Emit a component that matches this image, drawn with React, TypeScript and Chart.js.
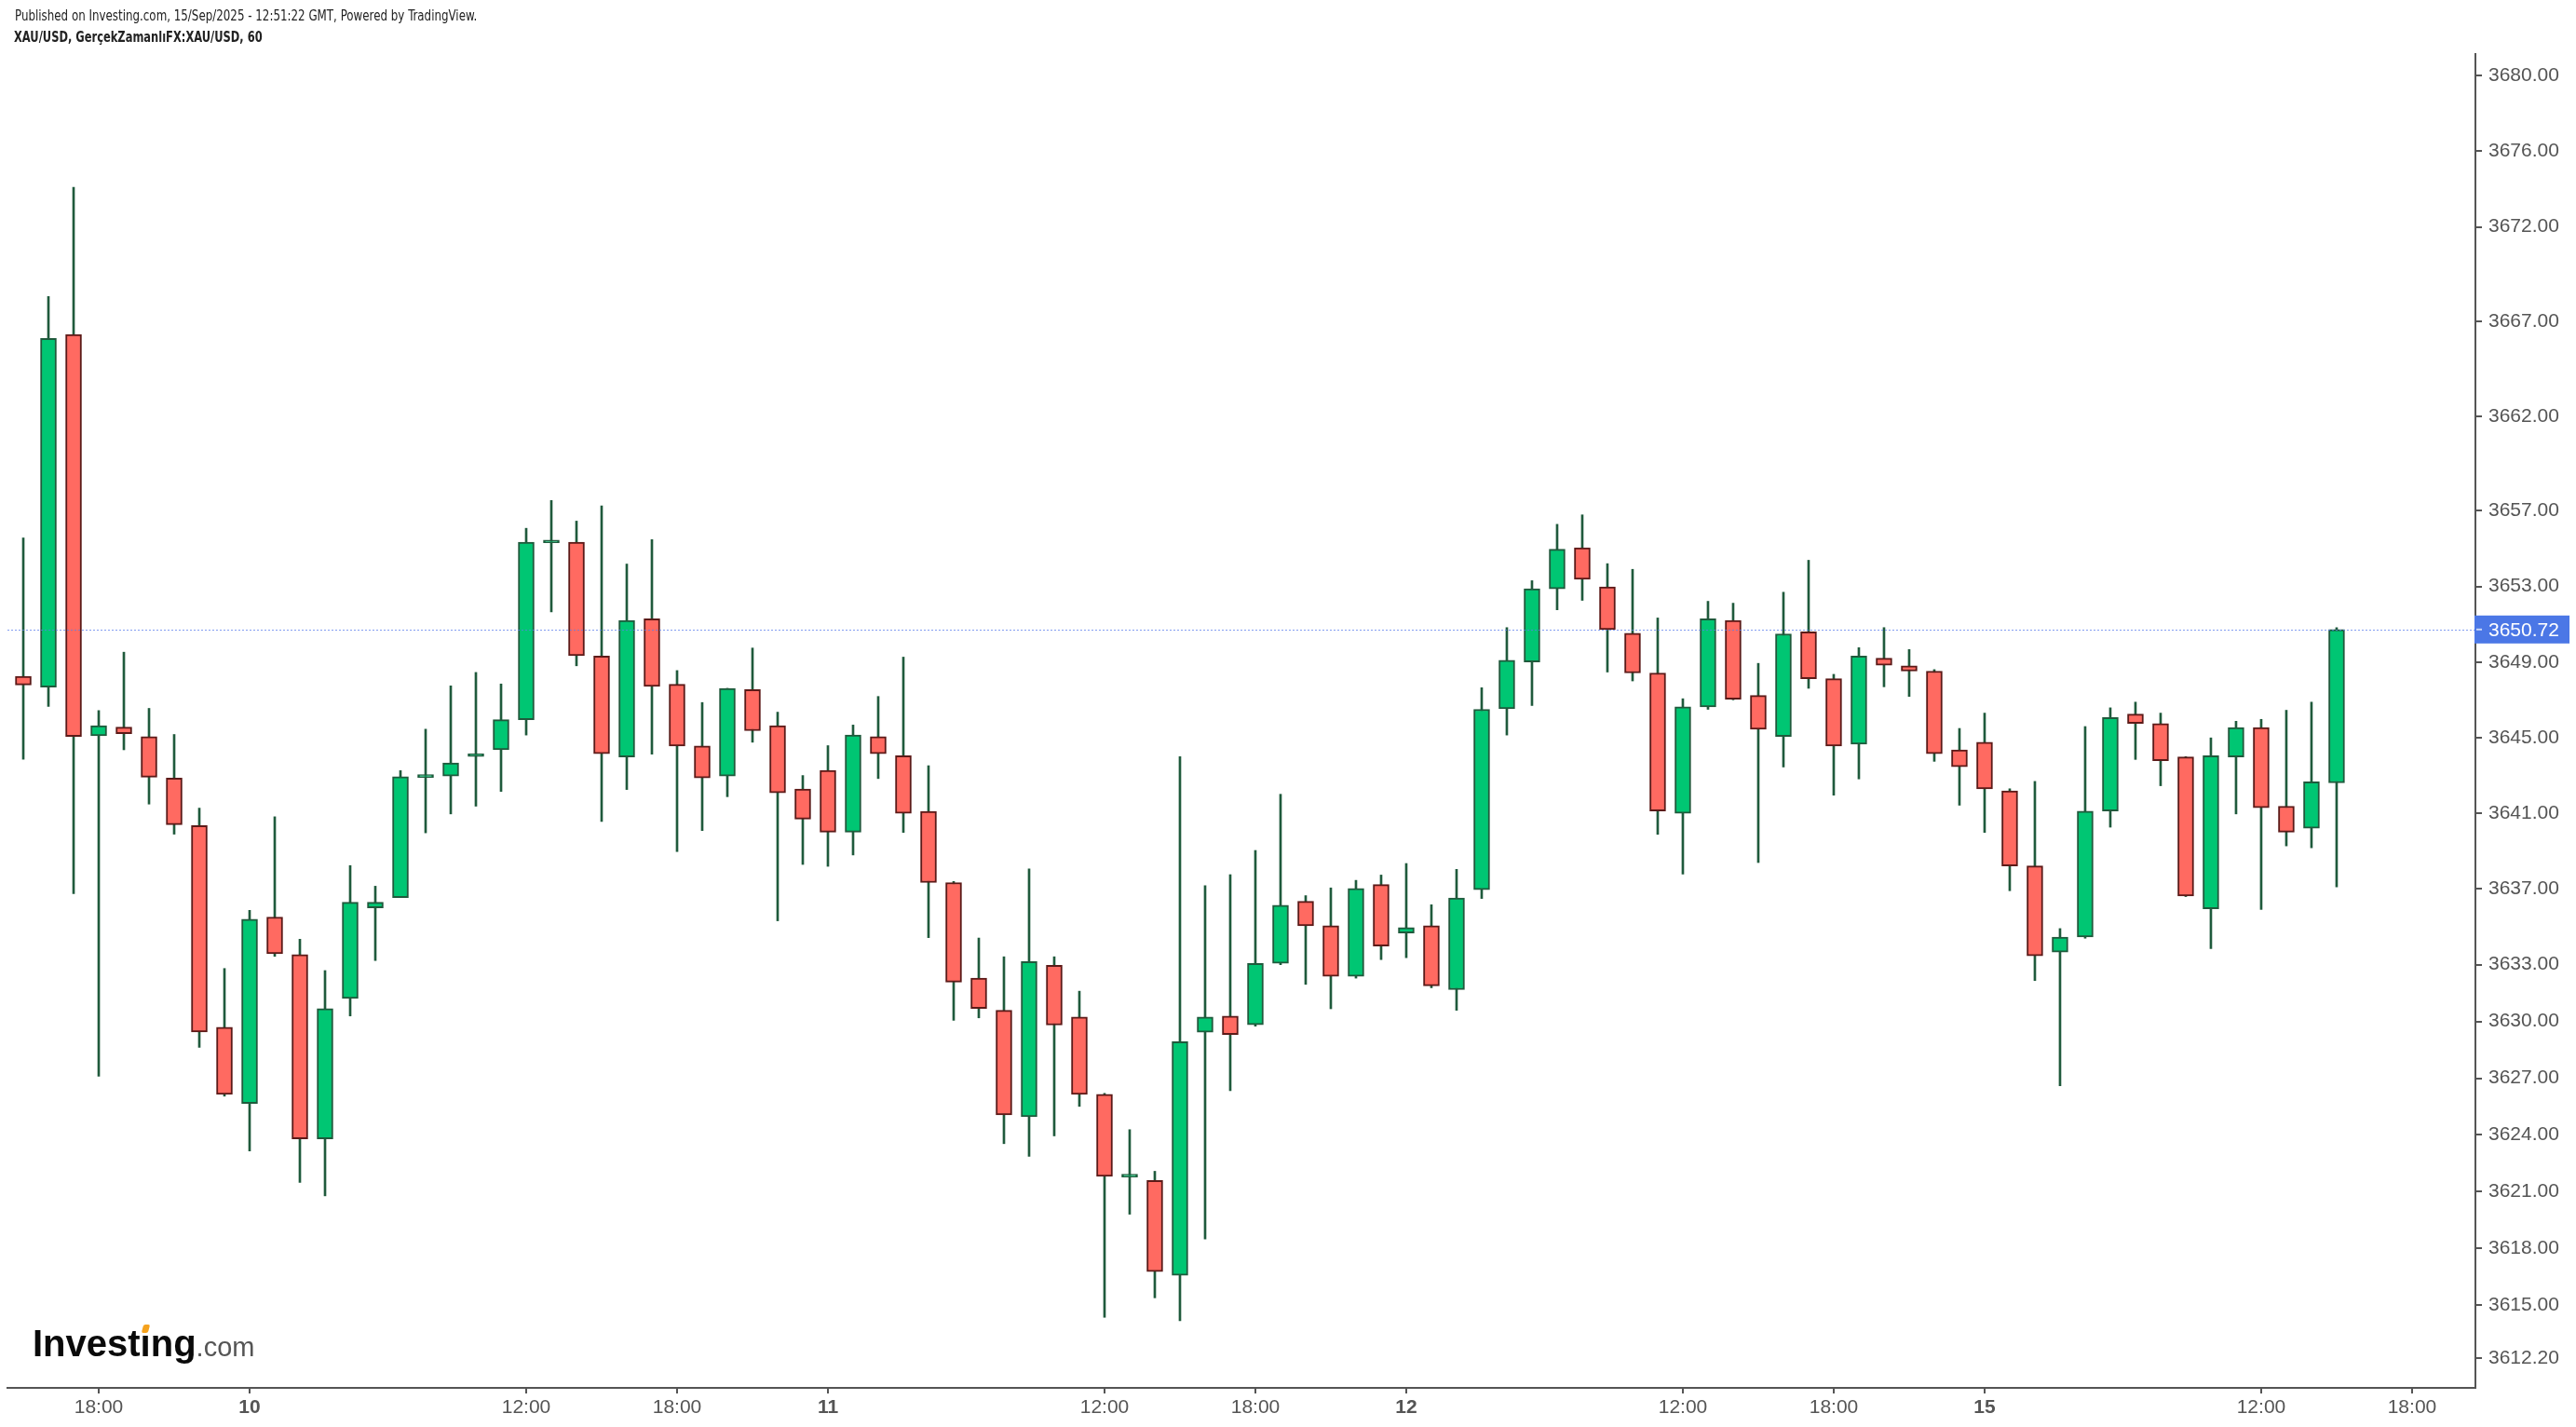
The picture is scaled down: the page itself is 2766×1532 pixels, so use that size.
import React, { useEffect, useRef } from "react";
import { Chart, registerables } from "chart.js";

Chart.register(...registerables);

// ---- Data (hourly XAU/USD candles, 9 Sep 15:00 -> 15 Sep 15:00) ----
const opens = [
  3648.25, 3647.68, 3666.31, 3645.10, 3645.56, 3645.06, 3642.87, 3640.36, 3629.69, 3625.66,
  3635.52, 3633.54, 3623.79, 3631.21, 3636.00, 3636.55, 3642.90, 3642.97, 3644.00, 3644.36,
  3645.95, 3655.30, 3655.34, 3649.31, 3643.98, 3651.28, 3647.82, 3644.56, 3642.97, 3647.54,
  3645.64, 3642.29, 3643.27, 3640.01, 3645.06, 3644.05, 3641.10, 3637.34, 3632.29, 3630.59,
  3624.96, 3632.97, 3630.24, 3626.15, 3621.78, 3621.60, 3616.58, 3629.43, 3630.29, 3629.83,
  3633.07, 3636.35, 3635.06, 3632.39, 3637.24, 3634.68, 3635.06, 3631.68, 3636.96, 3646.53,
  3649.00, 3652.87, 3655.04, 3652.97, 3650.52, 3648.42, 3641.00, 3646.63, 3651.20, 3647.23,
  3645.06, 3650.60, 3648.12, 3644.66, 3649.20, 3648.80, 3648.52, 3644.36, 3644.76, 3642.19,
  3638.22, 3633.67, 3634.46, 3641.12, 3646.25, 3645.75, 3643.98, 3635.95, 3643.98, 3645.54,
  3641.38, 3640.22, 3642.61,
];
const highs = [
  3655.56, 3668.32, 3674.09, 3646.44, 3649.52, 3646.55, 3645.17, 3641.28, 3632.80, 3635.87,
  3640.82, 3634.35, 3632.69, 3638.24, 3637.15, 3643.26, 3645.45, 3647.74, 3648.45, 3647.84,
  3656.07, 3657.54, 3656.45, 3657.26, 3654.18, 3655.47, 3648.55, 3646.86, 3647.61, 3649.74,
  3646.35, 3643.00, 3644.58, 3645.67, 3647.18, 3649.26, 3643.52, 3637.40, 3634.41, 3633.42,
  3638.07, 3633.42, 3631.60, 3626.20, 3624.28, 3622.08, 3644.00, 3637.18, 3637.76, 3639.04,
  3642.01, 3636.65, 3637.06, 3637.46, 3637.74, 3638.35, 3636.17, 3638.04, 3647.64, 3650.82,
  3653.30, 3656.28, 3656.78, 3654.20, 3653.90, 3651.33, 3647.06, 3652.21, 3652.11, 3648.93,
  3652.69, 3654.38, 3648.35, 3649.76, 3650.82, 3649.66, 3648.60, 3645.49, 3646.30, 3642.30,
  3642.69, 3634.91, 3645.59, 3646.58, 3646.88, 3646.30, 3644.00, 3644.99, 3645.87, 3645.97,
  3646.45, 3646.88, 3650.82,
];
const lows = [
  3643.86, 3646.65, 3636.76, 3627.11, 3644.36, 3641.49, 3639.90, 3628.63, 3626.05, 3623.15,
  3633.44, 3621.49, 3620.78, 3630.29, 3633.22, 3636.55, 3639.97, 3640.97, 3641.38, 3642.16,
  3645.14, 3651.65, 3648.80, 3640.57, 3642.26, 3644.13, 3638.98, 3640.09, 3641.88, 3644.76,
  3635.32, 3638.30, 3638.20, 3638.80, 3642.84, 3639.99, 3634.43, 3630.06, 3630.19, 3623.54,
  3622.87, 3623.95, 3625.51, 3614.36, 3619.81, 3615.39, 3614.18, 3618.50, 3626.34, 3629.75,
  3633.00, 3631.96, 3630.67, 3632.29, 3633.27, 3633.37, 3631.78, 3630.59, 3636.50, 3645.14,
  3646.70, 3651.76, 3652.26, 3648.47, 3648.00, 3639.89, 3637.79, 3646.50, 3647.00, 3638.40,
  3643.45, 3647.61, 3641.96, 3642.82, 3647.69, 3647.18, 3643.75, 3641.43, 3639.99, 3636.91,
  3632.16, 3626.60, 3634.40, 3640.27, 3643.85, 3642.46, 3636.60, 3633.85, 3640.97, 3635.92,
  3639.28, 3639.18, 3637.11,
];
const closes = [
  3647.79, 3666.10, 3645.06, 3645.63, 3645.21, 3642.91, 3640.40, 3629.44, 3626.15, 3635.41,
  3633.58, 3623.79, 3630.68, 3636.30, 3636.30, 3642.94, 3642.92, 3643.67, 3644.06, 3645.95,
  3655.34, 3655.36, 3649.33, 3644.15, 3651.20, 3647.71, 3644.56, 3642.87, 3647.61, 3645.37,
  3642.08, 3640.70, 3640.01, 3645.14, 3644.15, 3641.00, 3637.34, 3632.08, 3630.69, 3625.06,
  3633.17, 3629.81, 3626.15, 3621.81, 3621.82, 3616.78, 3628.93, 3630.24, 3629.31, 3633.07,
  3636.15, 3635.06, 3632.39, 3637.03, 3633.98, 3634.96, 3631.88, 3636.53, 3646.50, 3649.10,
  3652.87, 3654.96, 3653.37, 3650.72, 3648.42, 3641.12, 3646.63, 3651.28, 3647.03, 3645.44,
  3650.49, 3648.12, 3644.56, 3649.31, 3648.83, 3648.52, 3644.15, 3643.47, 3642.29, 3638.22,
  3633.47, 3634.46, 3641.12, 3646.07, 3645.75, 3643.78, 3636.63, 3644.05, 3645.54, 3641.30,
  3640.01, 3642.67, 3650.72,
];

// bar index positions of the time-axis labels
const xTickIndex = [3, 9, 20, 26, 32, 43, 49, 55, 66, 72, 78, 89, 95];
const xTickLabels = ["18:00", "10", "12:00", "18:00", "11", "12:00", "18:00", "12", "12:00", "18:00", "15", "12:00", "18:00"];
const dayLabels = ["10", "11", "12", "15"];

const yTickValues = [
  3680, 3676, 3672, 3667, 3662, 3657, 3653, 3649, 3645, 3641, 3637, 3633, 3630, 3627, 3624, 3621, 3618, 3615, 3612.2,
];

const W = 2766;
const H = 1532;
const GREEN = "#00c673";
const GREEN_BORDER = "#1f5a3c";
const RED = "#ff6a61";
const RED_BORDER = "#5c1a18";
const WICK = "#1f5a3c";
const AXIS = "#555555";
const PRICE_BLUE = "#4b77e6";
const FONT = "'Liberation Sans', Arial, Helvetica, sans-serif";

const lastPrice = closes[closes.length - 1];

const pricePlugin = {
  id: "priceLine",
  afterDatasetsDraw(chart: any) {
    const { ctx, chartArea, scales } = chart;
    const y = Math.round(scales.y.getPixelForValue(lastPrice)) + 0.5;
    ctx.save();
    ctx.strokeStyle = "rgba(90,125,235,0.75)";
    ctx.lineWidth = 1;
    ctx.setLineDash([2, 2]);
    ctx.beginPath();
    ctx.moveTo(chartArea.left, y);
    ctx.lineTo(chartArea.right, y);
    ctx.stroke();
    ctx.restore();
  },
  afterDraw(chart: any) {
    const { ctx, chartArea, scales } = chart;
    const y = scales.y.getPixelForValue(lastPrice);
    const x0 = chartArea.right - 1;
    ctx.save();
    ctx.fillStyle = PRICE_BLUE;
    ctx.fillRect(x0, y - 15, 2759 - x0, 30);
    ctx.strokeStyle = "#c8d4f6";
    ctx.lineWidth = 2;
    ctx.beginPath();
    ctx.moveTo(chartArea.right + 1, y);
    ctx.lineTo(chartArea.right + 7, y);
    ctx.stroke();
    ctx.fillStyle = "#ffffff";
    ctx.font = `21px ${FONT}`;
    ctx.textAlign = "left";
    ctx.textBaseline = "middle";
    ctx.fillText(lastPrice.toFixed(2), chartArea.right + 14, y + 1);
    ctx.restore();
  },
};

export default function App() {
  const ref = useRef<HTMLCanvasElement | null>(null);

  useEffect(() => {
    if (!ref.current) return;
    const up = closes.map((c, i) => c >= opens[i]);
    const bodyData = opens.map((o, i) => ({ x: i, y: [o, closes[i]] }));
    const wickData = lows.map((l, i) => ({ x: i, y: [l, highs[i]] }));

    const chart = new Chart(ref.current, {
      type: "bar",
      data: {
        datasets: [
          {
            label: "body",
            data: bodyData as any,
            backgroundColor: up.map((u) => (u ? GREEN : RED)),
            borderColor: up.map((u) => (u ? GREEN_BORDER : RED_BORDER)),
            borderWidth: 2,
            borderSkipped: false,
            barThickness: 17,
            minBarLength: 3,
            grouped: false,
            order: 0,
          } as any,
          {
            label: "wick",
            data: wickData as any,
            backgroundColor: WICK,
            borderWidth: 0,
            barThickness: 2,
            grouped: false,
            order: 1,
          } as any,
        ],
      },
      options: {
        responsive: false,
        animation: false,
        devicePixelRatio: 1,
        layout: { padding: { top: 58, left: 8, right: 0, bottom: 0 } },
        plugins: { legend: { display: false }, tooltip: { enabled: false } },
        scales: {
          x: {
            type: "linear",
            position: "bottom",
            min: -0.63,
            max: 97.52,
            offset: false,
            grid: {
              display: true,
              offset: false,
              drawOnChartArea: false,
              drawTicks: true,
              tickLength: 6,
              color: AXIS,
              lineWidth: 2,
            },
            border: { display: true, color: AXIS, width: 2 },
            afterBuildTicks: (s: any) => {
              s.ticks = xTickIndex.map((v) => ({ value: v }));
            },
            afterFit: (s: any) => {
              s.height = 42;
            },
            ticks: {
              autoSkip: false,
              maxRotation: 0,
              minRotation: 0,
              padding: 3,
              color: AXIS,
              font: (ctx: any) => ({
                family: FONT,
                size: 21,
                weight: dayLabels.includes(xTickLabels[ctx.index]) ? "bold" : "normal",
              }),
              callback: (_v: any, i: number) => xTickLabels[i],
            },
          },
          y: {
            type: "linear",
            position: "right",
            min: 3610.63,
            max: 3681.14,
            grid: {
              display: true,
              offset: false,
              drawOnChartArea: false,
              drawTicks: true,
              tickLength: 7,
              color: AXIS,
              lineWidth: 2,
            },
            border: { display: true, color: AXIS, width: 2 },
            afterBuildTicks: (s: any) => {
              s.ticks = yTickValues.map((v) => ({ value: v }));
            },
            afterFit: (s: any) => {
              s.width = 108;
            },
            ticks: {
              autoSkip: false,
              padding: 7,
              color: AXIS,
              font: { family: FONT, size: 21 },
              callback: (v: any) => Number(v).toFixed(2),
            },
          },
        },
      } as any,
      plugins: [pricePlugin],
    });
    return () => chart.destroy();
  }, []);

  const headFont = "'Liberation Sans Narrow', 'DejaVu Sans Condensed', 'Liberation Sans', sans-serif";

  return (
    <div style={{ position: "fixed", left: 0, top: 0, width: W, height: H, background: "#ffffff", overflow: "hidden" }}>
      <canvas ref={ref} width={W} height={H} style={{ position: "absolute", left: 0, top: 0, width: W, height: H }} />
      <div
        style={{
          position: "absolute",
          left: 16,
          top: 7,
          fontFamily: headFont,
          fontSize: 15,
          lineHeight: "20px",
          color: "#222",
          whiteSpace: "nowrap",
          transform: "scaleX(0.88)",
          transformOrigin: "0 50%",
        }}
      >
        Published on Investing.com, 15/Sep/2025 - 12:51:22 GMT, Powered by TradingView.
      </div>
      <div
        style={{
          position: "absolute",
          left: 15,
          top: 30,
          fontFamily: headFont,
          fontSize: 15,
          fontWeight: "bold",
          lineHeight: "20px",
          color: "#222",
          whiteSpace: "nowrap",
          transform: "scaleX(0.85)",
          transformOrigin: "0 50%",
        }}
      >
        XAU/USD, GerçekZamanlıFX:XAU/USD, 60
      </div>
      <div
        style={{
          position: "absolute",
          left: 35,
          top: 1422,
          fontFamily: FONT,
          fontSize: 40,
          fontWeight: "bold",
          lineHeight: "40px",
          color: "#0a0a0a",
          whiteSpace: "nowrap",
        }}
      >
        Invest
        <span style={{ position: "relative" }}>
          ı
          <span
            style={{
              position: "absolute",
              left: 2,
              top: 2,
              width: 7,
              height: 9,
              background: "#f5a21d",
              transform: "skewX(-15deg)",
              borderRadius: 2,
            }}
          />
        </span>
        ng
        <span style={{ fontSize: 29, fontWeight: "normal", color: "#555" }}>.com</span>
      </div>
    </div>
  );
}
